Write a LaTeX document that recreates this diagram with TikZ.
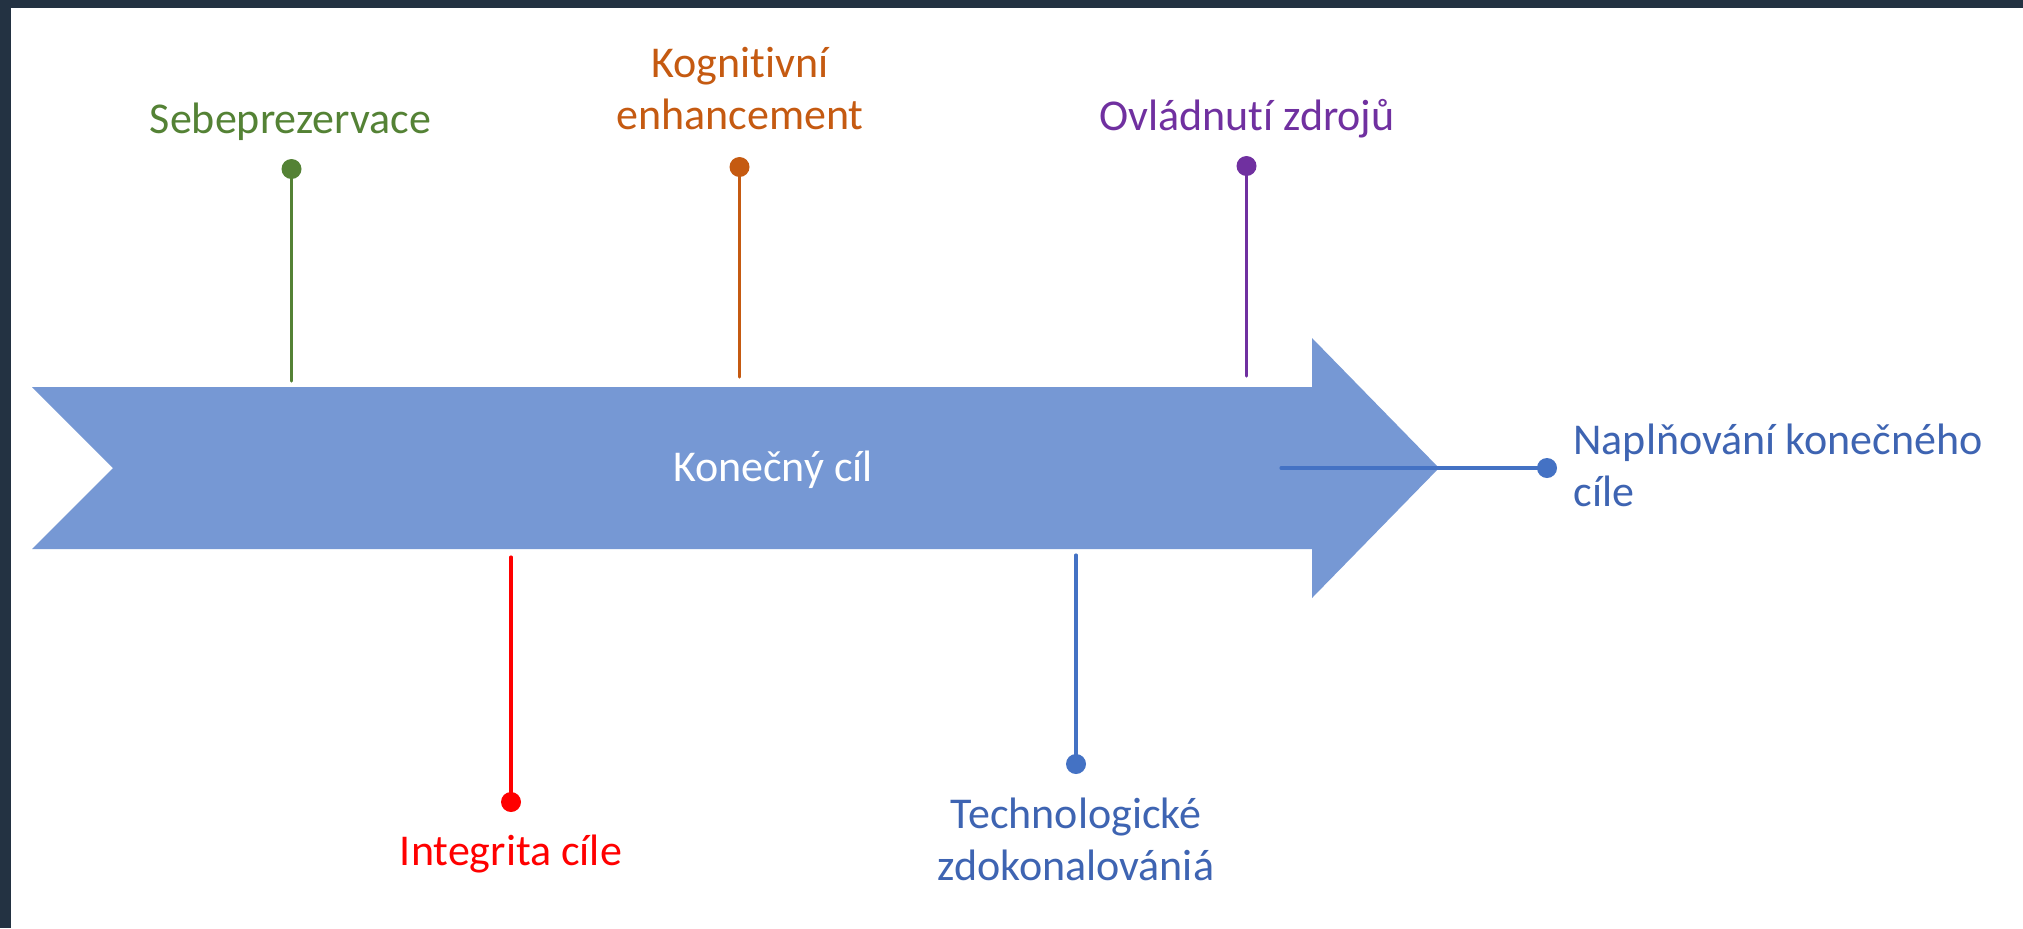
\documentclass[tikz,border=0pt]{standalone}
\usepackage{fontspec}
\setmainfont{Carlito}[Ligatures={NoCommon,NoContextual}]
\definecolor{frame}{HTML}{233242}
\definecolor{arrowfill}{HTML}{7698D4}
\definecolor{cgreen}{HTML}{548235}
\definecolor{corange}{HTML}{C55A11}
\definecolor{cpurple}{HTML}{7030A0}
\definecolor{cred}{HTML}{FF0000}
\definecolor{cblue}{HTML}{4472C4}
\definecolor{cbluetext}{HTML}{3E64B2}
\tikzset{
  lbl/.style={inner sep=0pt, font=\fontsize{22pt}{26pt}\selectfont},
  dotnode/.style={circle, fill=#1, inner sep=0pt, minimum size=10pt},
  stem/.style={draw=#1, line width=1.6pt, line cap=round},
}
\newcommand{\twolines}[3]{\begin{tabular}[t]{@{}#1@{}}#2\\#3\end{tabular}}
\begin{document}
\begin{tikzpicture}[x=0.5pt,y=-0.5pt]
\useasboundingbox (0,0) rectangle (2023,928);
\fill[frame] (0,0) rectangle (2023,928);
\fill[white] (11,8) rectangle (2023,928);
% main arrow
\fill[arrowfill] (32,387) -- (1312,387) -- (1312,338) -- (1439,468) -- (1312,598) -- (1312,549) -- (32,549) -- (113,468) -- cycle;
\node[lbl, text=white, anchor=base] (goal) at (773,481) {Konečný cíl};
% anchor points on the arrow
\coordinate (aS) at (291.5,381);
\coordinate (aK) at (739.5,377);
\coordinate (aO) at (1246.5,376);
\coordinate (aI) at (511,557);
\coordinate (aT) at (1076,555);
\coordinate (aN) at (1281,468);
% dots
\node[dotnode=cgreen] (dS) at (291.5,169) {};
\node[dotnode=corange] (dK) at (739.5,167) {};
\node[dotnode=cpurple] (dO) at (1246.5,166) {};
\node[dotnode=cred] (dI) at (511,802) {};
\node[dotnode=cblue] (dT) at (1076,764) {};
\node[dotnode=cblue] (dN) at (1547,468) {};
% stems
\draw[stem=cgreen] (dS.center) -- (aS);
\draw[stem=corange] (dK.center) -- (aK);
\draw[stem=cpurple] (dO.center) -- (aO);
\draw[stem=cred] (dI.center) -- (aI);
\draw[stem=cblue] (dT.center) -- (aT);
\draw[stem=cblue] (aN) -- (dN.center);
% labels
\node[lbl, text=cgreen, anchor=base] (tS) at (290.5,133) {Sebeprezervace};
\node[lbl, text=corange, anchor=base] (tK) at (740,77) {\twolines{c}{Kognitivní}{enhancement}};
\node[lbl, text=cpurple, anchor=base] (tO) at (1247,130) {Ovládnutí zdrojů};
\node[lbl, text=cred, anchor=base] (tI) at (511,865) {Integrita cíle};
\node[lbl, text=cbluetext, anchor=base] (tT) at (1076,828) {\twolines{c}{Technologické}{zdokonalovániá}};
\node[lbl, text=cbluetext, anchor=base west] (tN) at (1573,454) {\twolines{l}{Naplňování konečného}{cíle}};
\end{tikzpicture}
\end{document}
